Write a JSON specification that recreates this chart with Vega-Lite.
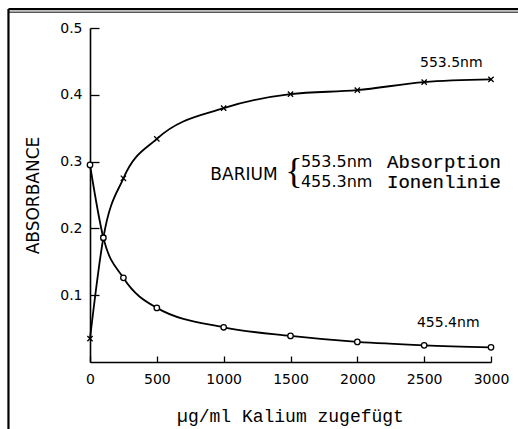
{
  "$schema": "https://vega.github.io/schema/vega-lite/v6.json",
  "width": 401,
  "height": 334,
  "autosize": "none",
  "padding": {"left": 90, "top": 28, "right": 27, "bottom": 67},
  "background": "white",
  "config": {"view": {"stroke": null}},
  "datasets": {
    "curves": [
      {"series": "553.5nm", "x": 0, "y": 0.035},
      {"series": "553.5nm", "x": 100, "y": 0.186},
      {"series": "553.5nm", "x": 250, "y": 0.275},
      {"series": "553.5nm", "x": 500, "y": 0.334},
      {"series": "553.5nm", "x": 1000, "y": 0.380},
      {"series": "553.5nm", "x": 1500, "y": 0.401},
      {"series": "553.5nm", "x": 2000, "y": 0.407},
      {"series": "553.5nm", "x": 2500, "y": 0.419},
      {"series": "553.5nm", "x": 3000, "y": 0.423},
      {"series": "455.4nm", "x": 0, "y": 0.295},
      {"series": "455.4nm", "x": 100, "y": 0.186},
      {"series": "455.4nm", "x": 250, "y": 0.126},
      {"series": "455.4nm", "x": 500, "y": 0.081},
      {"series": "455.4nm", "x": 1000, "y": 0.052},
      {"series": "455.4nm", "x": 1500, "y": 0.039},
      {"series": "455.4nm", "x": 2000, "y": 0.030},
      {"series": "455.4nm", "x": 2500, "y": 0.025},
      {"series": "455.4nm", "x": 3000, "y": 0.022}
    ],
    "curveLabels": [
      {"label": "553.5nm", "x": 2469, "y": 0.4476},
      {"label": "455.4nm", "x": 2446, "y": 0.0584}
    ],
    "annoSans": [
      {"label": "553.5nm", "x": 1578, "y": 0.2994},
      {"label": "455.3nm", "x": 1578, "y": 0.2695}
    ],
    "annoMono": [
      {"label": "Absorption", "x": 2222, "y": 0.2994},
      {"label": "Ionenlinie", "x": 2222, "y": 0.2695}
    ]
  },
  "layer": [
    {
      "data": {"name": "curves"},
      "mark": {"type": "line", "color": "black", "strokeWidth": 1.8, "interpolate": "monotone"},
      "encoding": {
        "x": {
          "field": "x", "type": "quantitative",
          "scale": {"domain": [0, 3000], "nice": false, "zero": false},
          "axis": {
            "values": [0, 500, 1000, 1500, 2000, 2500, 3000],
            "format": "d",
            "grid": false,
            "tickSize": -6,
            "tickColor": "black",
            "tickWidth": 1.3,
            "domainColor": "black",
            "domainWidth": 1.6,
            "labelFont": "DejaVu Sans",
            "labelFontSize": 14,
            "labelColor": "black",
            "labelPadding": 16,
            "labelFlush": false,
            "title": "µg/ml Kalium zugefügt",
            "titleFont": "Liberation Mono",
            "titleFontSize": 18,
            "titleFontWeight": "normal",
            "titleColor": "black",
            "titleX": 200,
            "titleY": 54,
            "titleBaseline": "middle"
          }
        },
        "y": {
          "field": "y", "type": "quantitative",
          "scale": {"domain": [0, 0.5], "nice": false, "zero": false},
          "axis": {
            "values": [0.1, 0.2, 0.3, 0.4, 0.5],
            "format": ".1f",
            "grid": false,
            "tickSize": -9,
            "tickColor": "black",
            "tickWidth": 1.3,
            "domainColor": "black",
            "domainWidth": 1.6,
            "labelFont": "DejaVu Sans",
            "labelFontSize": 14,
            "labelColor": "black",
            "labelPadding": 17,
            "labelFlush": false,
            "title": "ABSORBANCE",
            "titleFont": "DejaVu Sans",
            "titleFontSize": 17,
            "titleFontWeight": "normal",
            "titleColor": "black",
            "titleX": -57,
            "titleY": 167,
            "titleBaseline": "middle"
          }
        },
        "detail": {"field": "series"}
      }
    },
    {
      "data": {"values": [{"x": -610, "x2": 3202, "y": 0.5284}]},
      "mark": {"type": "rule", "color": "black", "strokeWidth": 2.2, "clip": false},
      "encoding": {
        "x": {"field": "x", "type": "quantitative"},
        "x2": {"field": "x2"},
        "y": {"field": "y", "type": "quantitative"}
      }
    },
    {
      "data": {"values": [{"x": -610, "x2": 3202, "y": 0.5237}]},
      "mark": {"type": "rule", "color": "black", "strokeWidth": 1, "clip": false},
      "encoding": {
        "x": {"field": "x", "type": "quantitative"},
        "x2": {"field": "x2"},
        "y": {"field": "y", "type": "quantitative"}
      }
    },
    {
      "data": {"values": [{"x": -610, "y": 0.5284, "y2": -0.11}]},
      "mark": {"type": "rule", "color": "black", "strokeWidth": 2.2, "clip": false},
      "encoding": {
        "x": {"field": "x", "type": "quantitative"},
        "y": {"field": "y", "type": "quantitative"},
        "y2": {"field": "y2"}
      }
    },
    {
      "data": {"name": "curves"},
      "transform": [{"filter": "datum.series === '553.5nm'"}],
      "mark": {"type": "point", "shape": "M-1,-1L1,1M-1,1L1,-1", "filled": false, "stroke": "black", "strokeWidth": 1.3, "size": 28, "opacity": 1},
      "encoding": {
        "x": {"field": "x", "type": "quantitative"},
        "y": {"field": "y", "type": "quantitative"}
      }
    },
    {
      "data": {"name": "curves"},
      "transform": [{"filter": "datum.series === '455.4nm'"}],
      "mark": {"type": "point", "shape": "circle", "filled": true, "fill": "white", "stroke": "black", "strokeWidth": 1.3, "size": 30, "opacity": 1},
      "encoding": {
        "x": {"field": "x", "type": "quantitative"},
        "y": {"field": "y", "type": "quantitative"}
      }
    },
    {
      "data": {"name": "curveLabels"},
      "mark": {"type": "text", "align": "left", "baseline": "middle", "font": "DejaVu Sans", "fontSize": 14, "color": "black"},
      "encoding": {
        "x": {"field": "x", "type": "quantitative"},
        "y": {"field": "y", "type": "quantitative"},
        "text": {"field": "label"}
      }
    },
    {
      "data": {"values": [{"label": "BARIUM", "x": 1152, "y": 0.280}]},
      "mark": {"type": "text", "align": "center", "baseline": "middle", "font": "DejaVu Sans", "fontSize": 17, "color": "black"},
      "encoding": {
        "x": {"field": "x", "type": "quantitative"},
        "y": {"field": "y", "type": "quantitative"},
        "text": {"field": "label"}
      }
    },
    {
      "data": {"values": [{"label": "{", "x": 1526, "y": 0.2844}]},
      "mark": {"type": "text", "align": "center", "baseline": "middle", "font": "Liberation Serif", "fontSize": 36, "color": "black"},
      "encoding": {
        "x": {"field": "x", "type": "quantitative"},
        "y": {"field": "y", "type": "quantitative"},
        "text": {"field": "label"}
      }
    },
    {
      "data": {"name": "annoSans"},
      "mark": {"type": "text", "align": "left", "baseline": "middle", "font": "DejaVu Sans", "fontSize": 16, "color": "black"},
      "encoding": {
        "x": {"field": "x", "type": "quantitative"},
        "y": {"field": "y", "type": "quantitative"},
        "text": {"field": "label"}
      }
    },
    {
      "data": {"name": "annoMono"},
      "mark": {"type": "text", "align": "left", "baseline": "middle", "font": "Liberation Mono", "fontSize": 19, "color": "black", "stroke": "black", "strokeWidth": 0.2},
      "encoding": {
        "x": {"field": "x", "type": "quantitative"},
        "y": {"field": "y", "type": "quantitative"},
        "text": {"field": "label"}
      }
    }
  ]
}
